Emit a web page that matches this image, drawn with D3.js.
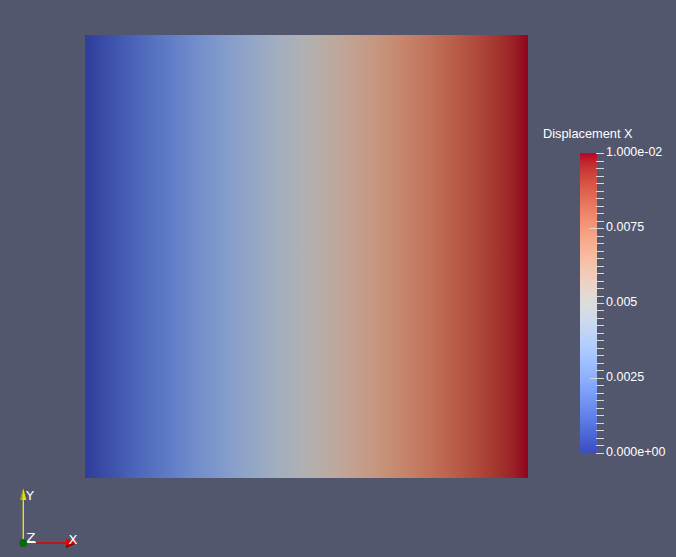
<!DOCTYPE html>
<html><head><meta charset="utf-8">
<script src="https://cdn.jsdelivr.net/npm/d3@7"></script>
<style>html,body{margin:0;padding:0;background:#52576e;overflow:hidden}svg{display:block}</style>
</head><body><svg id="c" width="676" height="557"></svg>
<script>
// ---- data ----
const fieldName = "Displacement X";
const valueDomain = [0, 0.01];
const colormapPositions = [0,0.03125,0.0625,0.09375,0.125,0.15625,0.1875,0.21875,0.25,0.28125,0.3125,0.34375,0.375,0.40625,0.4375,0.46875,0.5,0.53125,0.5625,0.59375,0.625,0.65625,0.6875,0.71875,0.75,0.78125,0.8125,0.84375,0.875,0.90625,0.9375,0.96875,1];
const colormapColors = [[59,76,192],[68,90,204],[77,104,215],[87,117,225],[98,130,234],[108,142,241],[119,154,247],[130,165,251],[141,176,254],[152,185,255],[163,194,255],[174,201,253],[184,208,249],[194,213,244],[204,217,238],[213,219,230],[221,221,221],[229,216,209],[236,211,197],[241,204,185],[245,196,173],[247,187,160],[247,177,148],[247,166,135],[244,154,123],[241,141,111],[236,127,99],[229,112,88],[222,96,77],[213,80,66],[203,62,56],[192,40,47],[180,4,38]];
const majorTicks = [0, 0.0025, 0.005, 0.0075, 0.01];
const majorTickLabels = ["0.000e+00", "0.0025", "0.005", "0.0075", "1.000e-02"];
const minorTickStep = 0.00025;
const surfaceShading = 0.8;

// ---- drawing ----
const svg = d3.select("#c");
const W = 676, H = 557;
svg.append("rect").attr("width", W).attr("height", H).attr("fill", "#52576e");
const defs = svg.append("defs");
const rgb = (c, k) => `rgb(${Math.round(c[0]*k)},${Math.round(c[1]*k)},${Math.round(c[2]*k)})`;

// surface: displacement x varies linearly along x
const xScale = d3.scaleLinear().domain(valueDomain).range([85, 528]);
const surfY = [35, 478];
const g1 = defs.append("linearGradient").attr("id", "surf")
  .attr("gradientUnits", "userSpaceOnUse")
  .attr("x1", xScale(valueDomain[0])).attr("x2", xScale(valueDomain[1])).attr("y1", 0).attr("y2", 0);
g1.selectAll("stop").data(colormapPositions).join("stop")
  .attr("offset", d => d)
  .attr("stop-color", (d, i) => rgb(colormapColors[i], surfaceShading));
svg.append("rect")
  .attr("x", xScale(valueDomain[0])).attr("y", surfY[0])
  .attr("width", xScale(valueDomain[1]) - xScale(valueDomain[0]))
  .attr("height", surfY[1] - surfY[0])
  .attr("fill", "url(#surf)");

// color bar
const yScale = d3.scaleLinear().domain(valueDomain).range([452.7, 153.3]);
const barX = 580, barW = 17;
const g2 = defs.append("linearGradient").attr("id", "bar")
  .attr("gradientUnits", "userSpaceOnUse")
  .attr("x1", 0).attr("x2", 0).attr("y1", yScale(valueDomain[0])).attr("y2", yScale(valueDomain[1]));
g2.selectAll("stop").data(colormapPositions).join("stop")
  .attr("offset", d => d)
  .attr("stop-color", (d, i) => rgb(colormapColors[i], 1));
svg.append("rect")
  .attr("x", barX).attr("y", yScale(valueDomain[1]))
  .attr("width", barW).attr("height", yScale(valueDomain[0]) - yScale(valueDomain[1]))
  .attr("fill", "url(#bar)");

const minorTicks = d3.range(valueDomain[0], valueDomain[1] + minorTickStep/2, minorTickStep);
const tickColor = "#d9d9d9";
svg.append("g").selectAll("line").data(minorTicks).join("line")
  .attr("x1", 596).attr("x2", 604)
  .attr("y1", d => Math.round(yScale(d)) + 0.5).attr("y2", d => Math.round(yScale(d)) + 0.5)
  .attr("stroke", tickColor).attr("stroke-width", 1);
svg.append("g").selectAll("line").data(majorTicks.filter(d => d > valueDomain[0] && d < valueDomain[1])).join("line")
  .attr("x1", 590).attr("x2", 604)
  .attr("y1", d => Math.round(yScale(d)) + 0.5).attr("y2", d => Math.round(yScale(d)) + 0.5)
  .attr("stroke", tickColor).attr("stroke-width", 1);
svg.append("g").selectAll("text").data(majorTicks).join("text")
  .attr("x", 606).attr("y", d => yScale(d) + 3)
  .attr("font-family", "'Liberation Sans', Arial, sans-serif")
  .attr("font-size", 12.5).attr("fill", "#ffffff")
  .text((d, i) => majorTickLabels[i]);
svg.append("text").attr("x", 543).attr("y", 138)
  .attr("font-family", "'Liberation Sans', Arial, sans-serif")
  .attr("font-size", 12.8).attr("fill", "#ffffff")
  .text(fieldName);

// orientation triad
const tri = svg.append("g");
const ox = 23.3, oy = 543;
tri.append("line").attr("x1", ox).attr("y1", oy).attr("x2", ox).attr("y2", 500)
  .attr("stroke", "#f0f000").attr("stroke-width", 1.3);
tri.append("polygon").attr("points", `${ox-3.3},500 ${ox+3},500 ${ox},488.5`).attr("fill", "#e6e600");
tri.append("polygon").attr("points", `${ox-3.3},500 ${ox-1},500 ${ox},488.5`).attr("fill", "#9a9a00");
tri.append("line").attr("x1", ox).attr("y1", oy).attr("x2", 67).attr("y2", oy)
  .attr("stroke", "#e00000").attr("stroke-width", 1.3);
tri.append("polygon").attr("points", `66,538.5 66,548 77,543`).attr("fill", "#e00000");
tri.append("polygon").attr("points", `66,545.5 66,548 77,543`).attr("fill", "#800000");
tri.append("line").attr("x1", ox).attr("y1", oy - 0.5).attr("x2", 36).attr("y2", oy - 0.5)
  .attr("stroke", "#ffffff").attr("stroke-width", 1.2);
tri.append("circle").attr("cx", ox).attr("cy", oy).attr("r", 4).attr("fill", "#0a6a0a");
const triFont = "'DejaVu Sans', sans-serif";
tri.append("text").attr("x", 26).attr("y", 500).attr("font-family", triFont).attr("font-size", 13).attr("fill", "#fff").text("Y");
tri.append("text").attr("x", 68.5).attr("y", 544).attr("font-family", triFont).attr("font-size", 13).attr("fill", "#fff").text("X");
tri.append("text").attr("x", 26.5).attr("y", 541.5).attr("font-family", triFont).attr("font-size", 13).attr("fill", "#fff").text("Z");
</script>
</body></html>
